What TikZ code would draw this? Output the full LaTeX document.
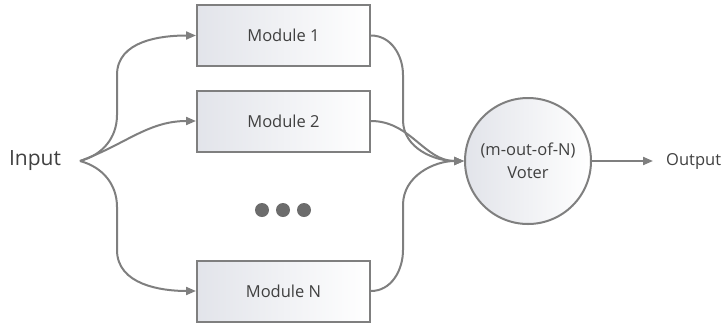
\documentclass[tikz,border=0pt]{standalone}
\usepackage{fontspec}
\setmainfont{Open Sans}
\usetikzlibrary{arrows.meta}
\definecolor{linegray}{HTML}{7F7F7F}
\definecolor{textgray}{HTML}{404040}
\definecolor{boxgray}{HTML}{E2E4EA}
\tikzset{
  module/.style={rectangle, draw=linegray, line width=2pt, minimum width=173pt, minimum height=61pt,
    left color=boxgray, right color=white, text=textgray, font=\fontsize{16.5}{19}\selectfont},
  voterbox/.style={circle, draw=linegray, line width=2pt, minimum size=126pt, inner sep=0pt,
    left color=boxgray, right color=white, text=textgray, align=center, font=\fontsize{16.5}{23}\selectfont},
  conn/.style={draw=linegray, line width=2pt, -{Triangle[length=10pt,width=8pt]}},
  dot/.style={circle, fill=linegray!85!black, minimum size=14pt, inner sep=0pt},
}
\begin{document}
\begin{tikzpicture}[x=1pt,y=-1pt]
  \useasboundingbox (0,0) rectangle (726,325);
  \node[text=textgray, font=\fontsize{21}{24}\selectfont] (input) at (35,161) {Input};
  \coordinate (split) at (80,161);
  \node[module] (mod1) at (283.5,35.5) {Module 1};
  \node[module] (mod2) at (283.5,121) {Module 2};
  \node[module] (modN) at (283.5,291) {Module N};
  \foreach \i/\x in {1/262,2/283,3/304}
    \node[dot] (dot\i) at (\x,210) {};
  \node[voterbox] (voter) at (528,161) {(m-out-of-N)\\Voter};
  \node[text=textgray, font=\fontsize{16.5}{19}\selectfont, anchor=west, inner sep=0pt] (output) at (666,161) {Output};
  % fan out
  \draw[conn] (split) to[out=15,in=-90] (117,115) -- (117,75) to[out=90,in=180] (mod1.west);
  \draw[conn] (split) to[out=20,in=180] (mod2.west);
  \draw[conn] (split) to[out=-15,in=90] (117,207) -- (117,250) to[out=-90,in=180] (modN.west);
  % fan in
  \draw[conn] (mod1.east) to[out=0,in=90] (403,75) -- (403,120) to[out=-90,in=180] (voter.west);
  \draw[conn] (mod2.east) to[out=0,in=180] (voter.west);
  \draw[conn] (modN.east) to[out=0,in=-90] (403,250) -- (403,205) to[out=90,in=180] (voter.west);
  \draw[conn] (voter.east) -- ([xshift=-13pt]output.west);
\end{tikzpicture}
\end{document}
